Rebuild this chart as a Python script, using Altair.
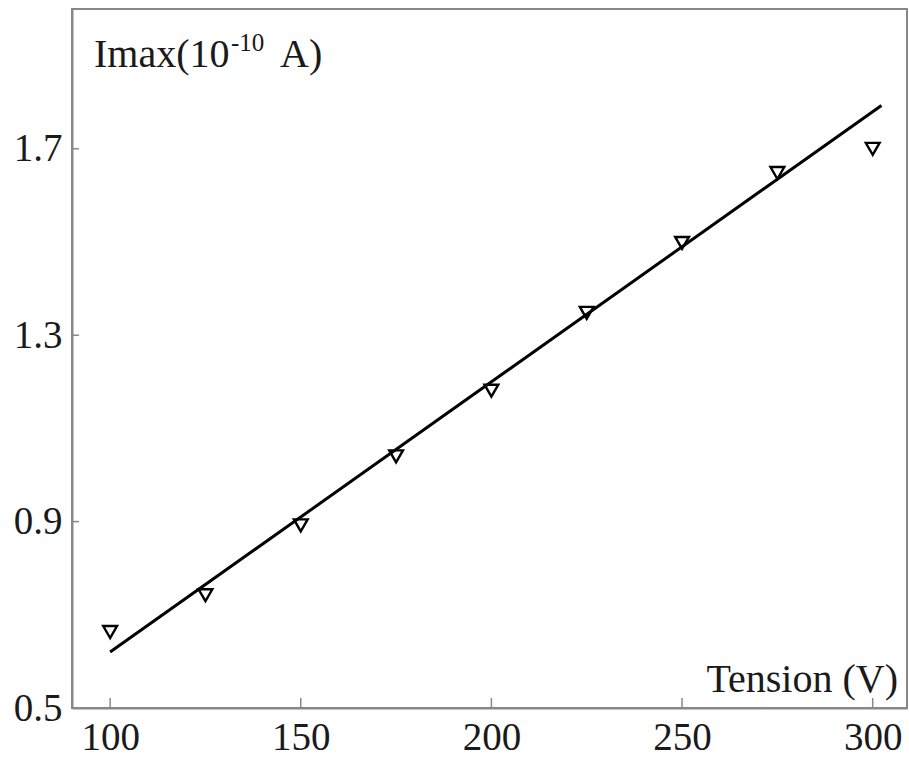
import altair as alt
import pandas as pd

# Measured data (triangles)
tension = [100, 125, 150, 175, 200, 225, 250, 275, 300]
imax = [0.663, 0.742, 0.892, 1.040, 1.181, 1.348, 1.498, 1.648, 1.700]

# Linear fit line endpoints
fit_x = [100, 302.3]
fit_y = [0.62, 1.793]

x_ticks = [100, 150, 200, 250, 300]
y_ticks = [0.5, 0.9, 1.3, 1.7]

FONT = "Liberation Serif"
W, H = 835, 699

pts = pd.DataFrame({"x": tension, "y": imax})
fit = pd.DataFrame({"x": fit_x, "y": fit_y})
xt = pd.DataFrame({"x": x_ticks})
yt = pd.DataFrame({"y": y_ticks})

xscale = alt.Scale(domain=[90, 309], nice=False, zero=False)
yscale = alt.Scale(domain=[0.5, 2.0], nice=False, zero=False)

xaxis = alt.Axis(values=x_ticks, title=None, grid=False, ticks=False,
                 labelFont=FONT, labelFontSize=39, labelColor="#1a1a1a",
                 labelPadding=10, domainColor="#888", domainWidth=2,
                 labelFlush=False, format="d")
yaxis = alt.Axis(values=y_ticks, title=None, grid=False, ticks=False,
                 labelFont=FONT, labelFontSize=39, labelColor="#1a1a1a",
                 labelPadding=10, domainColor="#888", domainWidth=2,
                 format=".1f")

line = alt.Chart(fit).mark_line(color="black", strokeWidth=3).encode(
    x=alt.X("x:Q", scale=xscale, axis=xaxis),
    y=alt.Y("y:Q", scale=yscale, axis=yaxis),
)

points = alt.Chart(pts).mark_point(
    shape="triangle-down", filled=False, color="black", size=190,
    strokeWidth=2.4, opacity=1
).encode(x=alt.X("x:Q", scale=xscale), y=alt.Y("y:Q", scale=yscale))

xtick_marks = alt.Chart(xt).mark_rule(color="#888", strokeWidth=1.5).encode(
    x=alt.X("x:Q", scale=xscale), y=alt.value(H), y2=alt.value(H - 10)
)
ytick_marks = alt.Chart(yt).mark_rule(color="#888", strokeWidth=1.5).encode(
    y=alt.Y("y:Q", scale=yscale), x=alt.value(0), x2=alt.value(7)
)

label_main = alt.Chart(pd.DataFrame({"t": ["Imax(10"]})).mark_text(
    font=FONT, fontSize=40, align="left", baseline="alphabetic", color="#1a1a1a"
).encode(text="t:N", x=alt.value(22), y=alt.value(58))
label_sup = alt.Chart(pd.DataFrame({"t": ["-10"]})).mark_text(
    font=FONT, fontSize=25, align="left", baseline="alphabetic", color="#1a1a1a"
).encode(text="t:N", x=alt.value(159), y=alt.value(42))
label_end = alt.Chart(pd.DataFrame({"t": ["A)"]})).mark_text(
    font=FONT, fontSize=40, align="left", baseline="alphabetic", color="#1a1a1a"
).encode(text="t:N", x=alt.value(208), y=alt.value(58))
label_x = alt.Chart(pd.DataFrame({"t": ["Tension (V)"]})).mark_text(
    font=FONT, fontSize=40, align="right", baseline="alphabetic", color="#1a1a1a"
).encode(text="t:N", x=alt.value(826), y=alt.value(683))

chart = alt.layer(
    line, points, xtick_marks, ytick_marks, label_main, label_sup, label_end, label_x
).properties(
    width=W, height=H,
    autosize=alt.AutoSizeParams(type="none"),
    padding={"left": 72, "top": 9, "right": 2, "bottom": 52},
    background="white",
).configure_view(stroke="#888", strokeWidth=2)

chart.save("out.html", embed_options={"renderer": "svg", "actions": False})
